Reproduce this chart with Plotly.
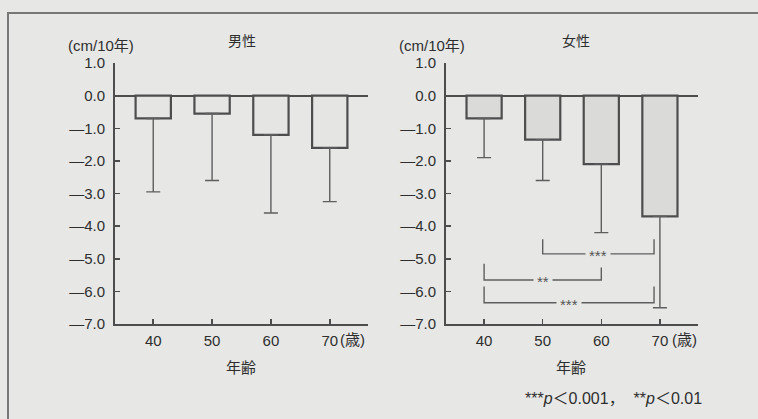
import plotly.graph_objects as go

# ---- data ----
ages = [40, 50, 60, 70]
age_labels = ["40", "50", "60", "70"]
male_values = [-0.7, -0.55, -1.2, -1.6]
male_sd = [2.25, 2.05, 2.4, 1.65]
female_values = [-0.7, -1.35, -2.1, -3.7]
female_sd = [1.2, 1.25, 2.1, 2.8]
y_ticks = [1.0, 0.0, -1.0, -2.0, -3.0, -4.0, -5.0, -6.0, -7.0]
y_tick_text = [("—" if v < 0 else "") + f"{abs(v):.1f}" for v in y_ticks]

# significance brackets (female panel)
br_start = [50, 40, 40]
br_end = [69, 60, 69]
br_top = [-4.4, -5.15, -5.85]
br_line = [-4.85, -5.65, -6.35]
br_label = ["***", "**", "***"]

W, H = 758, 419
BG = "#e7e8e6"
INK = "#2e2e2e"
EDGE = "#4d4d4d"
FONT = "Liberation Sans, Arial, Noto Sans CJK JP"
JP = "Noto Sans CJK JP"

def px(x):
    return x / W

def py(y):
    return 1 - y / H

fig = go.Figure()

fig.add_trace(go.Bar(
    x=ages, y=male_values, width=6, base=0,
    marker=dict(color="#e5e6e4", line=dict(color=EDGE, width=2.2)),
    error_y=dict(type="data", symmetric=False, array=[0]*4, arrayminus=male_sd,
                 color="#5e5e5e", thickness=1.4, width=7),
    xaxis="x", yaxis="y", showlegend=False))

fig.add_trace(go.Bar(
    x=ages, y=female_values, width=6, base=0,
    marker=dict(color="#dadbd9", line=dict(color=EDGE, width=2.2)),
    error_y=dict(type="data", symmetric=False, array=[0]*4, arrayminus=female_sd,
                 color="#5e5e5e", thickness=1.4, width=7),
    xaxis="x2", yaxis="y2", showlegend=False))

# brackets
bx, by = [], []
for s, e, t, l in zip(br_start, br_end, br_top, br_line):
    bx += [s, s, e, e, None]
    by += [t, l, l, t, None]
fig.add_trace(go.Scatter(x=bx, y=by, mode="lines",
                         line=dict(color="#5e5e5e", width=1.4),
                         xaxis="x2", yaxis="y2", showlegend=False, hoverinfo="skip"))

annotations = []
for s, e, l, lab in zip(br_start, br_end, br_line, br_label):
    annotations.append(dict(x=(s + e) / 2, y=l, xref="x2", yref="y2", text=lab,
                            xanchor="center", yanchor="middle",
                            showarrow=False, font=dict(family=FONT, size=15, color="#555"),
                            bgcolor=BG, borderpad=3, yshift=-2))

xr = [33.5, 76.5]
yr = [-7, 1]
dom_y = [py(324), py(63)]

axis_common = dict(range=xr, tickvals=ages, ticktext=age_labels, showline=True,
                   linecolor=EDGE, linewidth=2, ticks="inside", ticklen=5,
                   tickcolor=EDGE, tickwidth=1.5, showgrid=False, zeroline=False,
                   tickfont=dict(family=FONT, size=15, color=INK), fixedrange=True,
                   ticklabelstandoff=2)
yaxis_common = dict(range=yr, tickvals=y_ticks, ticktext=y_tick_text, showline=True,
                    linecolor=EDGE, linewidth=2, ticks="inside", ticklen=5,
                    tickcolor=EDGE, tickwidth=1.5, showgrid=False, zeroline=True,
                    zerolinecolor=EDGE, zerolinewidth=2,
                    tickfont=dict(family=FONT, size=15, color=INK), domain=dom_y,
                    ticklabelstandoff=5, fixedrange=True)

fig.update_layout(
    width=W, height=H, margin=dict(l=0, r=0, t=0, b=0, autoexpand=False),
    paper_bgcolor=BG, plot_bgcolor=BG, bargap=0,
    xaxis=dict(axis_common, domain=[px(115), px(368)], anchor="y"),
    yaxis=dict(yaxis_common, anchor="x"),
    xaxis2=dict(axis_common, domain=[px(446), px(698)], anchor="y2"),
    yaxis2=dict(yaxis_common, anchor="x2"),
)

def note(x, y, text, size, family=FONT, xanchor="center"):
    annotations.append(dict(x=px(x), y=py(y), xref="paper", yref="paper", text=text,
                            xanchor=xanchor, yanchor="middle", showarrow=False,
                            font=dict(family=family, size=size, color=INK)))

# panel texts
note(242, 40, "男性", 14, JP)
note(576, 40, "女性", 14, JP)
note(101, 45, "(cm/10年)", 15)
note(432, 45, "(cm/10年)", 15)
note(241, 366, "年齢", 15, JP)
note(571, 366, "年齢", 15, JP)
note(338, 339, "(歳)", 15, xanchor="left")
note(670, 339, "(歳)", 15, xanchor="left")
note(704, 398, "***<i>p</i>＜0.001，  **<i>p</i>＜0.01", 16, xanchor="right")

fig.update_layout(annotations=annotations)

# outer frame
fig.add_shape(type="rect", xref="paper", yref="paper", x0=px(8), x1=1.05,
              y0=-0.05, y1=py(13), line=dict(color="#777", width=2), layer="below")

fig.write_html("out.html", config={"displayModeBar": False, "staticPlot": True},
               post_script="document.body.style.margin='0';document.body.style.overflow='hidden';")
